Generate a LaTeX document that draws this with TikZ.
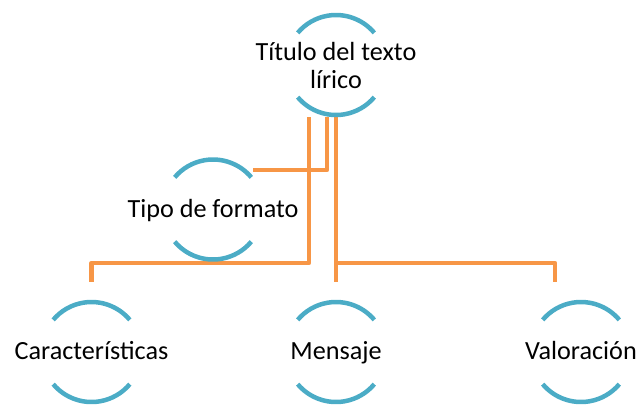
\documentclass[tikz,border=0pt]{standalone}
\usepackage{fontspec}
\setmainfont{Carlito}
\definecolor{arcblue}{HTML}{4BACC6}
\definecolor{linkorange}{HTML}{F79646}
\begin{document}
\begin{tikzpicture}[x=1bp,y=-1bp,
  lbl/.style={font=\fontsize{26.2bp}{28bp}\selectfont, inner sep=0pt, align=center, text=black},
  oneline/.style={text height=18bp, text depth=3bp},
  ring/.style={draw=arcblue, line width=4.5bp},
  conn/.style={draw=linkorange, line width=4.5bp, line join=round}]
\useasboundingbox (0,0) rectangle (639,404);
% nodes
\node[lbl] (t) at (336,65) {Título del texto\\lírico};
\node[lbl,oneline] (f) at (213,209.5) {Tipo de formato};
\node[lbl,oneline] (c) at (91.5,352) {Características};
\node[lbl,oneline] (m) at (336,352) {Mensaje};
\node[lbl,oneline] (v) at (581,352) {Valoración};
% connectors
\draw[conn] ([yshift=-52bp]t.center) -- ([yshift=70bp]m.center);
\draw[conn] ([xshift=-27bp,yshift=-52bp]t.center) -- ([xshift=-27bp,yshift=-198bp]t.center) -| ([yshift=70bp]c.center);
\draw[conn] ([yshift=-198bp]t.center) -| ([xshift=-26bp,yshift=70bp]v.center);
\draw[conn] ([xshift=-9bp,yshift=-52bp]t.center) |- ([xshift=40bp,yshift=39.5bp]f.center);
% arcs
\foreach \n in {t,f,c,m,v}{
  \draw[ring] ([shift={(40:50bp)}]\n.center) arc[start angle=40,end angle=140,radius=50bp];
  \draw[ring] ([shift={(220:50bp)}]\n.center) arc[start angle=220,end angle=320,radius=50bp];
}
\end{tikzpicture}
\end{document}
